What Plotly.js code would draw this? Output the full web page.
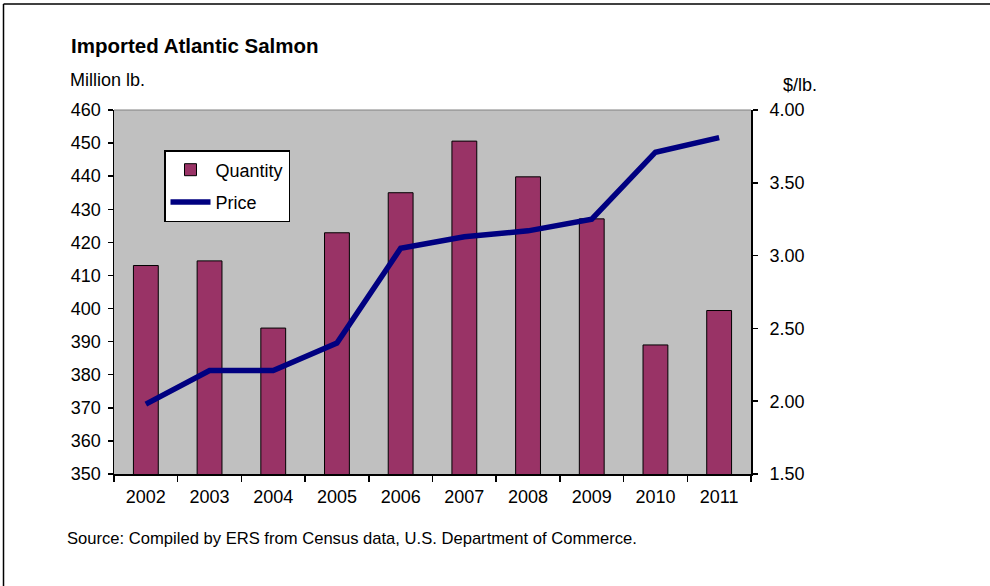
<!DOCTYPE html>
<html>
<head>
<meta charset="utf-8">
<script src="https://cdn.plot.ly/plotly-3.0.1.min.js"></script>
<style>html,body{margin:0;padding:0;background:#fff;}#chart{width:990px;height:586px;}</style>
</head>
<body>
<div id="chart"></div>
<script>
const years = ['2002','2003','2004','2005','2006','2007','2008','2009','2010','2011'];
const quantity = [413.0, 414.4, 394.1, 422.9, 435.0, 450.6, 439.8, 427.1, 389.0, 399.4];
const price = [1.98, 2.21, 2.21, 2.40, 3.05, 3.13, 3.17, 3.25, 3.71, 3.81];
const leftTicks = [350,360,370,380,390,400,410,420,430,440,450,460];
const rightTicks = [1.5,2.0,2.5,3.0,3.5,4.0];

const FONT = 'Arial, "Liberation Sans", sans-serif';

const L = 114, R = 751, T = 110, B = 474;
const W = 990, H = 586;
const px = x => (x - L) / (R - L);
const py = y => (B - y) / (B - T);

const traces = [
  {
    type: 'bar', name: 'Quantity', x: years, y: quantity, yaxis: 'y',
    marker: {color: '#993366', line: {color: '#000000', width: 1}},
    legendgroup: 'a'
  },
  {
    type: 'scatter', mode: 'lines', name: 'Price', x: years, y: price, yaxis: 'y2',
    line: {color: '#000080', width: 5.5},
    legendgroup: 'b'
  }
];

const layout = {
  width: W, height: H,
  margin: {l: L, r: W - R, t: T, b: H - B, pad: 0},
  paper_bgcolor: '#ffffff',
  plot_bgcolor: '#c0c0c0',
  font: {family: FONT, size: 17, color: '#000'},
  bargap: 0.61,
  showlegend: true,
  legend: {
    x: px(164), y: py(150), xanchor: 'left', yanchor: 'top',
    bgcolor: '#ffffff', bordercolor: '#000000', borderwidth: 1.5,
    font: {family: FONT, size: 18, color: '#000'},
    traceorder: 'grouped', tracegroupgap: 6, itemwidth: 40
  },
  title: {
    text: '<b>Imported Atlantic Salmon</b>',
    font: {family: FONT, size: 20.5, color: '#000'},
    xref: 'container', yref: 'container',
    x: 71 / W, y: 1 - 46 / H, xanchor: 'left', yanchor: 'middle'
  },
  xaxis: {
    type: 'category',
    showgrid: false, zeroline: false,
    showline: true, linecolor: '#000', linewidth: 1.5,
    ticks: 'outside', ticklen: 6, tickcolor: '#000', tickwidth: 1.5,
    tickson: 'boundaries',
    tickfont: {family: FONT, size: 18, color: '#000'},
    ticklabelstandoff: 6,
    fixedrange: true
  },
  yaxis: {
    range: [350, 460],
    tickvals: leftTicks,
    ticktext: leftTicks.map(v => String(v)),
    showgrid: false, zeroline: false,
    showline: true, linecolor: '#000', linewidth: 1.5,
    ticks: 'outside', ticklen: 5, tickcolor: '#000', tickwidth: 1.5,
    tickfont: {family: FONT, size: 18, color: '#000'},
    ticklabelstandoff: 3
  },
  yaxis2: {
    overlaying: 'y', side: 'right',
    range: [1.5, 4.0],
    tickvals: rightTicks,
    ticktext: rightTicks.map(v => v.toFixed(2)),
    showgrid: false, zeroline: false,
    showline: true, linecolor: '#000', linewidth: 2,
    ticks: 'outside', ticklen: 5, tickcolor: '#000', tickwidth: 1.5,
    tickfont: {family: FONT, size: 18, color: '#000'},
    ticklabelstandoff: 8
  },
  shapes: [
    {type: 'line', xref: 'paper', yref: 'paper', x0: 0, x1: 1, y0: 1, y1: 1,
     line: {color: '#808080', width: 1}},
    {type: 'line', xref: 'paper', yref: 'paper', x0: px(3.5), x1: px(3.5), y0: py(4), y1: py(600),
     line: {color: '#000', width: 1.5}},
    {type: 'line', xref: 'paper', yref: 'paper', x0: px(3.5), x1: px(1000), y0: py(4), y1: py(4),
     line: {color: '#000', width: 1.5}}
  ],
  annotations: [
    {text: 'Million lb.', xref: 'paper', yref: 'paper', x: px(68), y: py(80),
     xanchor: 'left', yanchor: 'middle', showarrow: false,
     font: {family: FONT, size: 18, color: '#000'}},
    {text: '$/lb.', xref: 'paper', yref: 'paper', x: px(781), y: py(85),
     xanchor: 'left', yanchor: 'middle', showarrow: false,
     font: {family: FONT, size: 18, color: '#000'}},
    {text: 'Source: Compiled by ERS from Census data, U.S. Department of Commerce.',
     xref: 'paper', yref: 'paper', x: px(65), y: py(538),
     xanchor: 'left', yanchor: 'middle', showarrow: false,
     font: {family: FONT, size: 16.6, color: '#000'}}
  ]
};

Plotly.newPlot('chart', traces, layout, {displayModeBar: false, staticPlot: true});
</script>
</body>
</html>
